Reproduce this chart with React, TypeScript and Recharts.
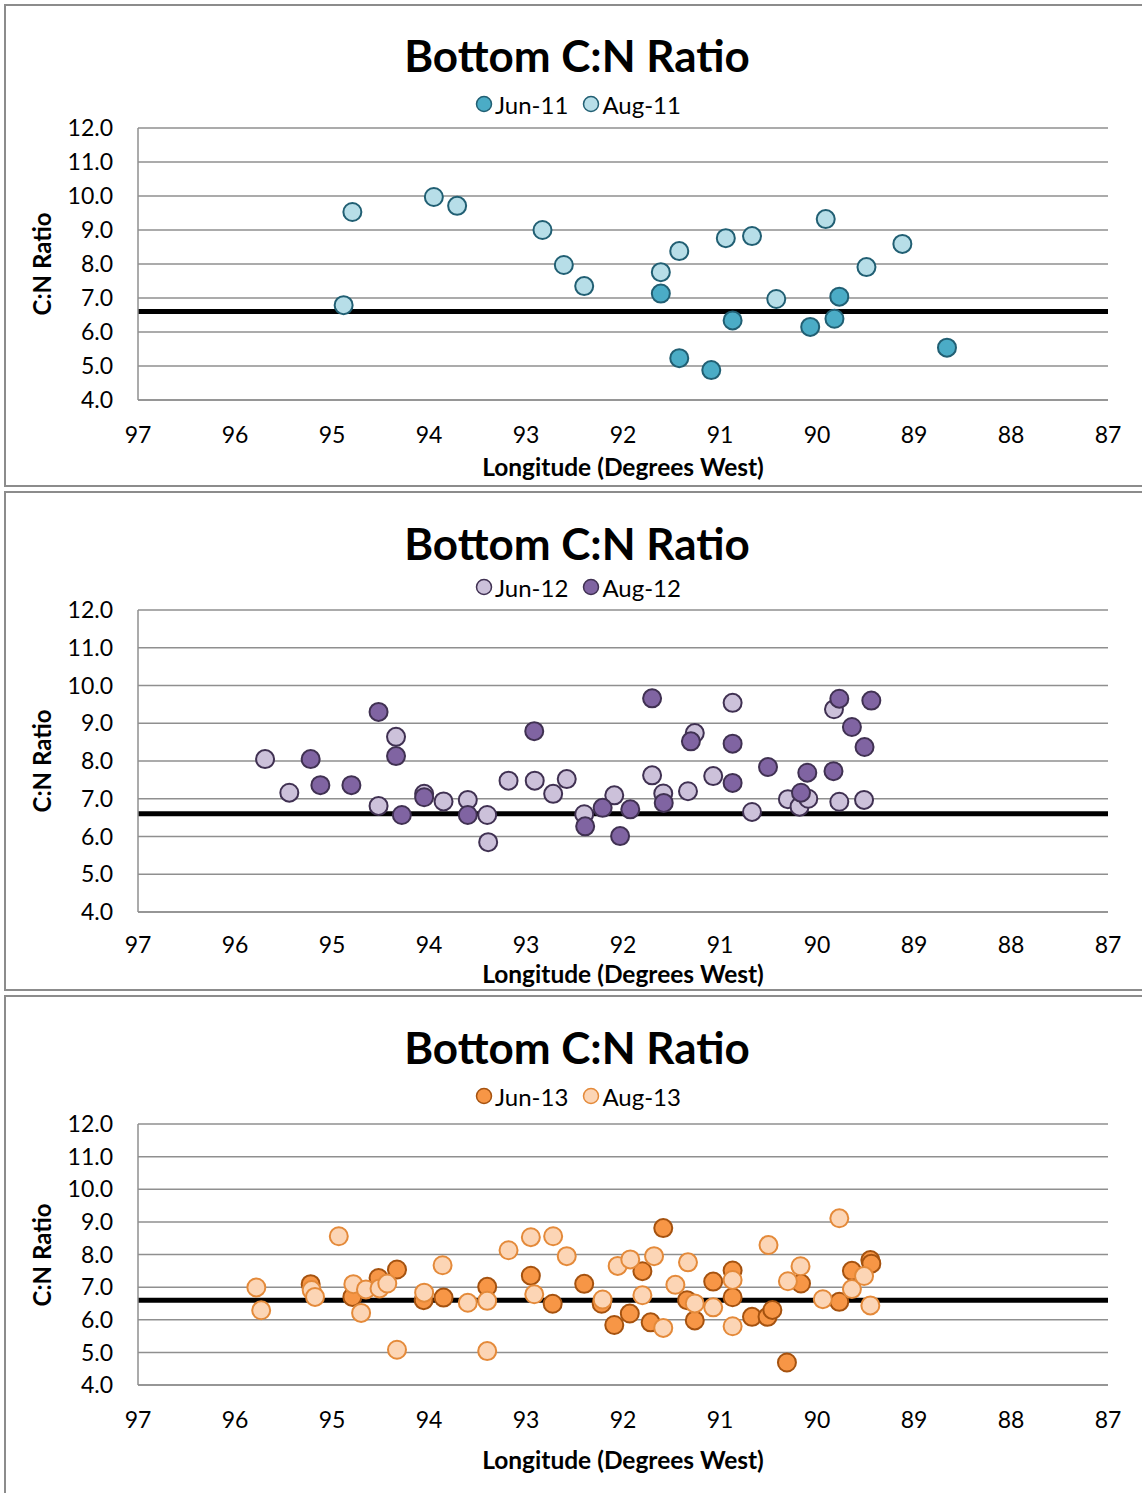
import { ScatterChart, Scatter, XAxis, YAxis, CartesianGrid, ReferenceLine } from 'recharts'

const LON_TICKS = [97, 96, 95, 94, 93, 92, 91, 90, 89, 88, 87]
const CN_TICKS = [4, 5, 6, 7, 8, 9, 10, 11, 12]
const THRESHOLD = 6.6

// [longitude (deg W), C:N ratio]
const JUN_11: [number, number][] = [
  [91.61, 7.13], [90.87, 6.34], [91.42, 5.23], [91.09, 4.88], [90.07, 6.15], [89.82, 6.39], [89.77, 7.04], [88.66, 5.54],
]
const AUG_11: [number, number][] = [
  [94.79, 9.53], [94.88, 6.79], [93.95, 9.97], [93.71, 9.71], [92.83, 9.0], [92.61, 7.97], [92.4, 7.35], [91.61, 7.76],
  [91.42, 8.38], [90.94, 8.76], [90.67, 8.82], [90.42, 6.97], [89.91, 9.32], [89.49, 7.91], [89.12, 8.59],
]
const JUN_12: [number, number][] = [
  [95.69, 8.05], [95.44, 7.16], [94.52, 6.81], [94.34, 8.64], [94.05, 7.13], [93.85, 6.93], [93.6, 6.97], [93.4, 6.57],
  [93.39, 5.85], [93.18, 7.48], [92.91, 7.48], [92.72, 7.13], [92.58, 7.52], [92.4, 6.59], [92.09, 7.09], [91.7, 7.62],
  [91.585, 7.14], [91.33, 7.2], [91.26, 8.74], [91.07, 7.6], [90.87, 9.54], [90.67, 6.65], [90.3, 6.99], [90.18, 6.79],
  [90.09, 7.0], [89.825, 9.37], [89.77, 6.92], [89.515, 6.97],
]
const AUG_12: [number, number][] = [
  [95.22, 8.05], [95.12, 7.36], [94.8, 7.36], [94.52, 9.3], [94.34, 8.13], [94.28, 6.57], [94.05, 7.04], [93.6, 6.57],
  [92.915, 8.79], [92.39, 6.27], [92.21, 6.76], [92.03, 6.01], [91.925, 6.72], [91.7, 9.66], [91.58, 6.89], [91.3, 8.52],
  [90.87, 8.46], [90.87, 7.42], [90.505, 7.84], [90.165, 7.16], [90.1, 7.69], [89.83, 7.73], [89.77, 9.65], [89.64, 8.9],
  [89.51, 8.37], [89.44, 9.6],
]
const JUN_13: [number, number][] = [
  [95.22, 7.09], [94.79, 6.7], [94.52, 7.28], [94.33, 7.54], [94.055, 6.6], [93.85, 6.68], [93.4, 7.01], [92.95, 7.35],
  [92.725, 6.49], [92.4, 7.1], [92.22, 6.49], [92.09, 5.84], [91.93, 6.19], [91.8, 7.49], [91.715, 5.92], [91.585, 8.81],
  [91.34, 6.6], [91.26, 5.98], [91.07, 7.17], [90.87, 7.51], [90.87, 6.69], [90.67, 6.09], [90.51, 6.09], [90.46, 6.3],
  [90.31, 4.69], [90.165, 7.11], [89.77, 6.55], [89.64, 7.5], [89.45, 7.83], [89.44, 7.72],
]
const AUG_13: [number, number][] = [
  [95.78, 6.99], [95.73, 6.29], [95.21, 6.91], [95.175, 6.7], [94.93, 8.56], [94.78, 7.09], [94.7, 6.21], [94.65, 6.93],
  [94.51, 6.96], [94.43, 7.11], [94.33, 5.08], [94.05, 6.83], [93.86, 7.67], [93.6, 6.52], [93.4, 6.58], [93.4, 5.04],
  [93.18, 8.13], [92.95, 8.53], [92.915, 6.78], [92.72, 8.56], [92.58, 7.95], [92.21, 6.62], [92.055, 7.65], [91.925, 7.85],
  [91.8, 6.75], [91.68, 7.95], [91.585, 5.75], [91.46, 7.07], [91.33, 7.76], [91.26, 6.5], [91.07, 6.38], [90.87, 7.22],
  [90.87, 5.8], [90.5, 8.29], [90.3, 7.18], [90.17, 7.64], [89.94, 6.63], [89.77, 9.11], [89.64, 6.94], [89.515, 7.34],
  [89.45, 6.44],
]

const FONT = 'Lato, "Open Sans", sans-serif'
const GRID = '#8f8f8f'

interface SeriesDef {
  name: string
  data: [number, number][]
  fill: string
  stroke: string
}

interface PanelDef {
  top: number
  height: number
  plotTop: number
  plotBottom: number
  titleY: number
  legendY: number
  xTitleY: number
  tickGap: number
  series: SeriesDef[]
}

const PANELS: PanelDef[] = [
  {
    top: 4, height: 483, plotTop: 128, plotBottom: 400, titleY: 55, legendY: 104, xTitleY: 467, tickGap: 27,
    series: [
      { name: 'Jun-11', data: JUN_11, fill: '#4bacc6', stroke: '#215f73' },
      { name: 'Aug-11', data: AUG_11, fill: '#b7dee8', stroke: '#215f73' },
    ],
  },
  {
    top: 491, height: 500, plotTop: 610, plotBottom: 912, titleY: 543, legendY: 587, xTitleY: 974, tickGap: 25,
    series: [
      { name: 'Jun-12', data: JUN_12, fill: '#ccc1da', stroke: '#403152' },
      { name: 'Aug-12', data: AUG_12, fill: '#8064a2', stroke: '#403152' },
    ],
  },
  {
    top: 995, height: 515, plotTop: 1124, plotBottom: 1385, titleY: 1047, legendY: 1096, xTitleY: 1460, tickGap: 27,
    series: [
      { name: 'Jun-13', data: JUN_13, fill: '#f79646', stroke: '#a5520f' },
      { name: 'Aug-13', data: AUG_13, fill: '#fcd5b5', stroke: '#e48a3a' },
    ],
  },
]

const toPoints = (arr: [number, number][]) => arr.map(([lon, cn]) => ({ lon, cn }))

const Panel = ({ p }: { p: PanelDef }) => {
  const chartBottom = p.top + p.height
  return (
    <>
      <div
        style={{
          position: 'absolute', left: 4, top: p.top, width: 1170, height: p.height,
          border: '2px solid #8c8c8c', boxSizing: 'border-box',
        }}
      />
      <div style={{ position: 'absolute', left: 0, top: p.top }}>
        <ScatterChart
          width={1142}
          height={p.height}
          margin={{ top: p.plotTop - p.top, right: 34, left: 78, bottom: chartBottom - p.plotBottom - 40 }}
        >
          <CartesianGrid vertical={false} stroke={GRID} strokeWidth={1.5} />
          <XAxis
            dataKey="lon"
            type="number"
            domain={[87, 97]}
            ticks={LON_TICKS}
            reversed
            allowDataOverflow
            height={40}
            tickSize={0}
            tickMargin={p.tickGap}
            axisLine={{ stroke: GRID, strokeWidth: 1.5 }}
            tick={{ fill: '#000', fontSize: 23, fontFamily: FONT }}
          />
          <YAxis
            dataKey="cn"
            type="number"
            domain={[4, 12]}
            ticks={CN_TICKS}
            width={60}
            tickSize={0}
            tickMargin={25}
            axisLine={{ stroke: GRID, strokeWidth: 1.5 }}
            tickFormatter={(v: number) => v.toFixed(1)}
            tick={{ fill: '#000', fontSize: 23, fontFamily: FONT }}
          />
          <ReferenceLine y={THRESHOLD} stroke="#000" strokeWidth={5} />
          {p.series.map((s) => (
            <Scatter
              key={s.name}
              name={s.name}
              data={toPoints(s.data)}
              isAnimationActive={false}
              shape={(props: any) => (
                <circle cx={props.cx} cy={props.cy} r={9} fill={s.fill} stroke={s.stroke} strokeWidth={2} />
              )}
            />
          ))}
        </ScatterChart>
      </div>
      <div
        style={{
          position: 'absolute', left: 4, width: 1146, top: p.titleY - 27, height: 54, lineHeight: '54px',
          textAlign: 'center', fontFamily: FONT, fontWeight: 700, fontSize: 44, color: '#000',
        }}
      >
        Bottom C:N Ratio
      </div>
      <div
        style={{
          position: 'absolute', left: 4, width: 1148, top: p.legendY - 15, height: 30,
          display: 'flex', justifyContent: 'center', alignItems: 'center', gap: 14,
          fontFamily: FONT, fontSize: 24, color: '#000',
        }}
      >
        {p.series.map((s) => (
          <span key={s.name} style={{ display: 'flex', alignItems: 'center' }}>
            <svg width={18} height={18} style={{ marginRight: 2 }}>
              <circle cx={9} cy={9} r={7.5} fill={s.fill} stroke={s.stroke} strokeWidth={1.5} />
            </svg>
            {s.name}
          </span>
        ))}
      </div>
      <div
        style={{
          position: 'absolute', left: 42 - 100, width: 200, top: (p.plotTop + p.plotBottom) / 2 - 15, height: 30,
          lineHeight: '30px', textAlign: 'center', transform: 'rotate(-90deg)',
          fontFamily: FONT, fontWeight: 700, fontSize: 24, color: '#000',
        }}
      >
        C:N Ratio
      </div>
      <div
        style={{
          position: 'absolute', left: 623 - 250, width: 500, top: p.xTitleY - 12, height: 24, lineHeight: '24px',
          textAlign: 'center', fontFamily: FONT, fontWeight: 700, fontSize: 24.5, color: '#000',
        }}
      >
        Longitude (Degrees West)
      </div>
    </>
  )
}

export default function App() {
  return (
    <div
      style={{
        position: 'absolute', left: 0, top: 0, width: 1142, height: 1493,
        overflow: 'hidden', background: '#fff',
      }}
    >
      {PANELS.map((p) => (
        <Panel key={p.top} p={p} />
      ))}
    </div>
  )
}
